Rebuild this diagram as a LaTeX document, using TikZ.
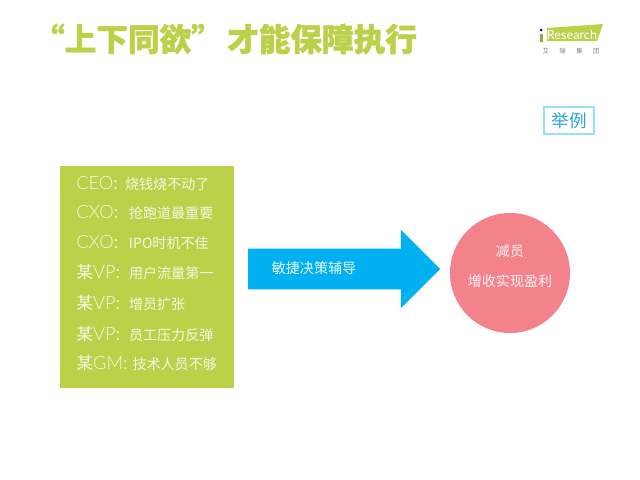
\documentclass[tikz,border=0pt]{standalone}
\usepackage{fontspec}
\setmainfont{Noto Sans CJK SC}
\newfontfamily\latinlight{Lato Light}
\newfontfamily\latinplain{Lato}
\newfontfamily\titlefont[BoldFeatures={FakeBold=1.5}]{Noto Sans CJK SC}
\definecolor{leaf}{HTML}{BBD14A}
\definecolor{sky}{HTML}{00B0F0}
\definecolor{rose}{HTML}{F4828A}
\definecolor{tagblue}{HTML}{2AA5DC}
\usetikzlibrary{shapes.arrows}
% 1px = 0.71pt on the page
\newcommand{\who}[3]{\makebox[#1pt][l]{{\fontsize{13}{13}\latinlight #2}\hspace{-1pt}：}#3}
\newcommand{\mou}{{\normalfont\fontsize{12}{12}\selectfont 某}}

\begin{document}
\begin{tikzpicture}
[x=0.025cm,y=-0.025cm,
panel/.style={fill=leaf,minimum width=4.35cm,minimum height=5.55cm,inner sep=0pt},
line/.style={anchor=west,inner sep=0pt,text=white,text opacity=0.85,font=\fontsize{10}{10}\selectfont},
light/.style={inner sep=0pt,text=white,text opacity=0.9,font=\fontsize{10}{10}\selectfont},
decision/.style={shape=single arrow,fill=sky,minimum height=4.8cm,minimum width=1.95cm,single arrow head extend=0.475cm,single arrow head indent=0pt,inner xsep=0pt,inner ysep=0.5cm},
result/.style={circle,fill=rose,minimum width=3cm,inner sep=0pt}]
\useasboundingbox (0,0) rectangle (640,480);
\node[inner sep=0pt,text=leaf,font=\fontsize{22.5}{22.5}\titlefont\bfseries] (title) at (225,39) {“上下同欲”\hspace{3pt}才能保障执行};
% logo
\fill[leaf] (547,28) -- (603,24) -- (597,41) -- (547,41) -- cycle;
\fill[blue!60!black] (541,30) circle (1.5);
\fill[leaf!80!black] (540,34) rectangle (543,42);
\node[inner sep=0pt,text=white,font=\fontsize{9}{9}\latinplain] (brand) at (572,35) {Research};
\node[inner sep=0pt,text=black!50,font=\fontsize{4.5}{4.5}\selectfont] (group) at (571,51) {艾\hspace{7.5pt}瑞\hspace{7.5pt}集\hspace{7.5pt}团};
\node[draw=sky!40,line width=1pt,text=tagblue,minimum width=1.25cm,minimum height=0.67cm,inner sep=0pt,font=\fontsize{12.5}{12.5}\selectfont] (tag) at (569,120.5) {举例};
\node[panel] (box) at (147,277) {};
\node[line] (l1) at (76,184) {\who{34.7}{CEO}{烧钱烧不动了}};
\node[line] (l2) at (76,213) {\who{37.5}{CXO}{抢跑道最重要}};
\node[line] (l3) at (76,243) {\who{37.5}{CXO}{IPO时机不佳}};
\node[line] (l4) at (76,272) {\who{37.5}{\mou VP}{用户流量第一}};
\node[line] (l5) at (76,303) {\who{37.5}{\mou VP}{增员扩张}};
\node[line] (l6) at (76,334) {\who{37.5}{\mou VP}{员工压力反弹}};
\node[line] (l7) at (76,363) {\who{40}{\mou GM}{技术人员不够}};
\node[decision] (arrow) at (334,269) {};
\node[light] (arrowtext) at (314,268) {敏捷决策辅导};
\node[result] (goal) at (510,273) {};
\node[light] (cut) at (510,251) {减员};
\node[light] (profit) at (510,281) {增收实现盈利};
\end{tikzpicture}
\end{document}
